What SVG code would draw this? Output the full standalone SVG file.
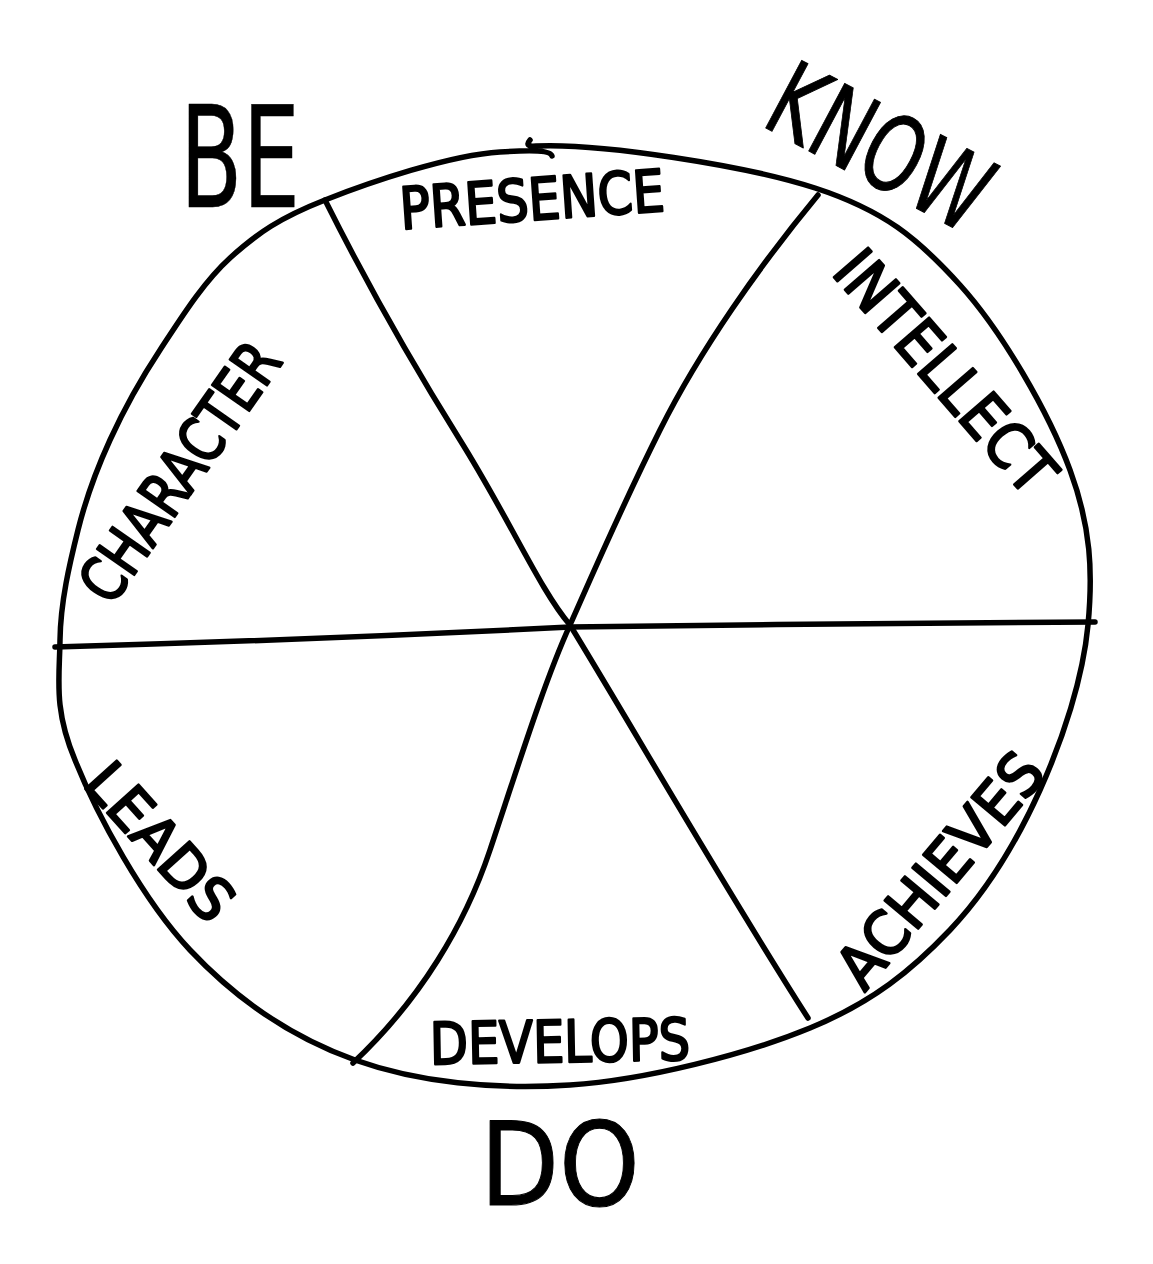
<svg xmlns="http://www.w3.org/2000/svg" width="1153" height="1264" viewBox="0 0 1153 1264">
<style>
.ink{fill:none;stroke:#000;stroke-width:5.5;stroke-linecap:round;stroke-linejoin:round}
.t{font-family:"DejaVu Sans","Liberation Sans",sans-serif;fill:#000;stroke:#000;stroke-width:2.5;stroke-linejoin:round;text-anchor:middle;dominant-baseline:central}
</style>
<rect width="1153" height="1264" fill="#fff"/>
<g id="wheel">
<path class="ink" d="M530,140 Q524,147 536,146 C600,143 746,165.5 815,188 C884,210.5 917.5,238 960,285 C1002.5,332 1049,413 1070,470 C1091,527 1093,572 1088,625 C1083,678 1063,739 1040,790 C1017,841 988,890 950,930 C912,970 873,1002 810,1028 C747,1054 646,1080 570,1085 C494,1090 418,1082.5 355,1060 C292,1037.5 237,1000 190,950 C143,900 97,815 75,760 C53.3,708.3 59.5,678.3 60,640 C60.5,601.7 69.7,563.3 78,530 C86.3,496.7 96.3,470 110,440 C123.7,410 140,380.3 160,350 C180,319.7 202.5,283 230,258 C257.5,233 280,217.7 325,200 C370,182.3 450,155 500,152 C530,150 550,150 552,156"/>
</g>
<g id="connectors">
<path class="ink" d="M325,200 C370,290 410,360 460,440 C510,520 540,590 570,625 C640,740 720,880 808,1018"/>
<path class="ink" d="M818,195 C760,265 700,350 660,430 C620,510 590,580 570,625 C545,680 520,760 490,850 C465,925 420,1000 353,1063"/>
<path class="ink" d="M55,647 C200,643 350,638 570,627 C750,624 900,624 1095,622"/>
</g>
<g id="labels">
<text class="t" font-size="140" textLength="120" lengthAdjust="spacingAndGlyphs" transform="translate(240,158)" style="stroke-width:0.5">BE</text>
<text class="t" font-size="105" textLength="235" lengthAdjust="spacingAndGlyphs" transform="translate(880,148) rotate(28)" style="stroke-width:1">KNOW</text>
<text class="t" font-size="115" textLength="160" lengthAdjust="spacingAndGlyphs" transform="translate(560,1165)" style="stroke-width:1">DO</text>
<text class="t" font-size="58" textLength="265" lengthAdjust="spacingAndGlyphs" transform="translate(532,200) rotate(-4)">PRESENCE</text>
<text class="t" font-size="62" textLength="300" lengthAdjust="spacingAndGlyphs" transform="translate(945,372) rotate(49)">INTELLECT</text>
<text class="t" font-size="62" textLength="300" lengthAdjust="spacingAndGlyphs" transform="translate(180,472) rotate(-55)">CHARACTER</text>
<text class="t" font-size="58" textLength="190" lengthAdjust="spacingAndGlyphs" transform="translate(160,842) rotate(48)">LEADS</text>
<text class="t" font-size="60" textLength="285" lengthAdjust="spacingAndGlyphs" transform="translate(940,870) rotate(-50)">ACHIEVES</text>
<text class="t" font-size="58" textLength="260" lengthAdjust="spacingAndGlyphs" transform="translate(560,1042) rotate(-1)">DEVELOPS</text>
</g>
</svg>
